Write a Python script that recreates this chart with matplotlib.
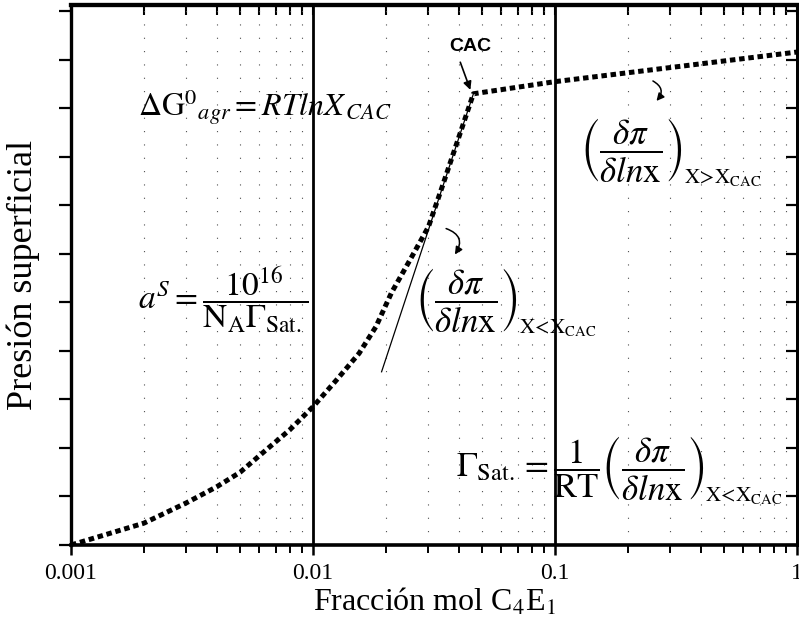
import numpy as np
import matplotlib.pyplot as plt
from matplotlib.ticker import LogLocator, FixedLocator, NullFormatter, FixedFormatter

plt.rcParams['font.family'] = ['Liberation Serif', 'DejaVu Serif']
plt.rcParams['mathtext.fontset'] = 'stix'

# surface pressure isotherm (log mole fraction)
x_frac = [0.001, 0.002, 0.003, 0.004, 0.005, 0.0064, 0.008, 0.01, 0.0125,
          0.0155, 0.0182, 0.0211, 0.025, 0.030, 0.034, 0.046, 0.1, 1.0]
presion = [0.0, 0.45, 0.87, 1.2, 1.5, 1.96, 2.37, 2.85, 3.4,
           3.95, 4.5, 5.2, 5.85, 6.56, 7.35, 9.3, 9.55, 10.16]

# slope line below the CAC, ending at the break point
tan_x = [0.0192, 0.046]
tan_y = [3.57, 9.3]

x_ticks = [0.001, 0.01, 0.1, 1.0]
x_labels = ['0.001', '0.01', '0.1', '1']
minor_subs = np.arange(2, 10)

fig = plt.figure(figsize=(7.99, 6.23), dpi=100)
ax = fig.add_axes([0.0889, 0.1252, 0.9086, 0.8668])

ax.set_xscale('log')
ax.set_xlim(0.001, 1.0)
ax.set_ylim(0, 11.13)

ax.plot(x_frac, presion, color='black', lw=3.6, linestyle=(0, (1.1, 0.75)),
        solid_capstyle='butt', zorder=5)
ax.plot(tan_x, tan_y, color='black', lw=0.9, zorder=4)

# decade lines and dotted minor grid
for xv in [0.01, 0.1]:
    ax.axvline(xv, color='black', lw=2.0, zorder=2)
ax.xaxis.set_minor_locator(LogLocator(base=10, subs=minor_subs))
ax.xaxis.set_minor_formatter(NullFormatter())
ax.grid(which='minor', axis='x', color='0.3', lw=0.8, linestyle=(0, (1, 11)))

ax.xaxis.set_major_locator(FixedLocator(x_ticks))
ax.xaxis.set_major_formatter(FixedFormatter(x_labels))
ax.set_yticks(np.arange(0, 12))
ax.set_yticklabels([])

ax.tick_params(axis='x', which='major', direction='out', length=7, width=1.8,
               labelsize=17, pad=6)
ax.tick_params(axis='x', which='minor', direction='out', length=6, width=1.4)
ax.tick_params(axis='y', which='major', direction='out', length=9, width=1.6)

# inward ticks on the top and right frame
top = ax.secondary_xaxis('top')
top.xaxis.set_major_locator(FixedLocator(x_ticks))
top.xaxis.set_minor_locator(LogLocator(base=10, subs=minor_subs))
top.xaxis.set_major_formatter(NullFormatter())
top.xaxis.set_minor_formatter(NullFormatter())
top.tick_params(which='both', direction='in', length=7, width=1.5)

right = ax.secondary_yaxis('right')
right.set_yticks(np.arange(0, 12))
right.set_yticklabels([])
right.tick_params(direction='in', length=8, width=1.6)

for side, w in [('top', 3.0), ('left', 2.4), ('bottom', 2.6), ('right', 2.0)]:
    ax.spines[side].set_linewidth(w)
top.spines['top'].set_linewidth(3.0)
right.spines['right'].set_linewidth(2.0)

ax.set_xlabel(r'Fracción mol C$_4$E$_1$', fontsize=23, labelpad=2)
ax.set_ylabel('Presión superficial', fontsize=26, labelpad=10)

# CAC marker
ax.text(0.0447, 10.27, 'CAC', ha='center', va='center', fontsize=14,
        fontweight='bold', family=['Liberation Sans', 'DejaVu Sans'])
ax.annotate('', xy=(0.0447, 9.38), xytext=(0.0406, 9.95),
            arrowprops=dict(arrowstyle='-|>', color='black', lw=1.2,
                            shrinkA=0, shrinkB=0, mutation_scale=12))

# curved pointers to the slopes
ax.annotate('', xy=(0.038, 5.94), xytext=(0.0346, 6.54),
            arrowprops=dict(arrowstyle='-|>', color='black', lw=1.1,
                            connectionstyle='arc3,rad=-0.7', mutation_scale=11))
ax.annotate('', xy=(0.258, 9.11), xytext=(0.248, 9.59),
            arrowprops=dict(arrowstyle='-|>', color='black', lw=1.1,
                            connectionstyle='arc3,rad=-0.7', mutation_scale=11))

W, H = 799, 623
renderer = fig.canvas.get_renderer()


def put(px, py, s, size, ha='left'):
    return fig.text(px / W, 1 - py / H, s, fontsize=size, ha=ha, va='center')


def with_sub(px, py, s, sub, size):
    # subscript hung off the closing bracket
    t = put(px, py, s, size)
    bb = t.get_window_extent(renderer)
    fig.text((bb.x1 + 1) / W, (bb.y0 - 4) / H, sub, fontsize=size * 0.6,
             ha='left', va='bottom')


slope = r'\left(\dfrac{\delta\pi}{\delta ln\mathrm{x}}\right)'
sub_lt = r'$\mathrm{X\!<\!X_{CAC}}$'
sub_gt = r'$\mathrm{X\!>\!X_{CAC}}$'

put(265, 107, r'$\Delta\mathrm{G}^{0}{}_{agr}=RTlnX_{\,CAC}$', 23, ha='center')
put(138, 300, r'$a^{S}=\dfrac{\mathrm{10}^{16}}{\mathrm{N}_{\mathrm{A}}\Gamma_{\mathrm{Sat.}}}$', 24)
with_sub(415, 300, '$' + slope + '$', sub_lt, 25)
with_sub(580, 150, '$' + slope + '$', sub_gt, 25)
with_sub(456, 468, r'$\Gamma_{\mathrm{Sat.}}=\dfrac{\mathrm{1}}{\mathrm{RT}}' + slope + '$',
         sub_lt, 25)

fig.savefig('out.png', dpi=100)
